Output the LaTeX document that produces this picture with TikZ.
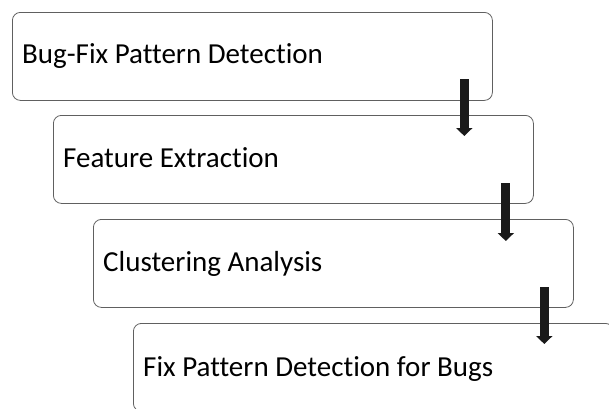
\documentclass[tikz,border=0pt]{standalone}
\usepackage{fontspec}
\setmainfont[Ligatures={NoCommon}]{Carlito}
\usetikzlibrary{arrows.meta,calc}
\definecolor{boxline}{HTML}{606060}
\definecolor{arrowfill}{HTML}{1A1A1A}
\begin{document}
\begin{tikzpicture}[x=1pt,y=-1pt,
  box/.style={draw=boxline, line width=0.8pt, rounded corners=8pt, minimum width=480pt, minimum height=88pt, anchor=north west, inner sep=0pt},
  label/.style={anchor=base west, inner sep=0pt, font=\fontsize{29}{34}\selectfont, text=black},
  flowarrow/.style={draw=arrowfill, line width=9pt, -{Triangle[width=16pt,length=8pt]}}]
\useasboundingbox (0,0) rectangle (609,408);
\clip (0,0) rectangle (609,408);
\node[box] (b1) at (12,12) {};
\node[box] (b2) at (53,115) {};
\node[box] (b3) at (93,219) {};
\node[box] (b4) at (133,323) {};
\node[label] (t1) at ($(b1.north west)+(10,51)$) {Bug-Fix Pattern Detection};
\node[label] (t2) at ($(b2.north west)+(10,52)$) {Feature Extraction};
\node[label] (t3) at ($(b3.north west)+(10,52)$) {Clustering Analysis};
\node[label] (t4) at ($(b4.north west)+(10,53)$) {Fix Pattern Detection for Bugs};
\coordinate (a1s) at ($(b1.north east)+(-28.5,67)$);
\coordinate (a1e) at ($(b2.north east)+(-69,21)$);
\coordinate (a2s) at ($(b2.north east)+(-28,68)$);
\coordinate (a2e) at ($(b3.north east)+(-69,22)$);
\coordinate (a3s) at ($(b3.north east)+(-29.5,68)$);
\coordinate (a3e) at ($(b4.north east)+(-69.5,21)$);
\draw[flowarrow] (a1s) -- (a1s |- a1e);
\draw[flowarrow] (a2s) -- (a2s |- a2e);
\draw[flowarrow] (a3s) -- (a3s |- a3e);
\end{tikzpicture}
\end{document}
